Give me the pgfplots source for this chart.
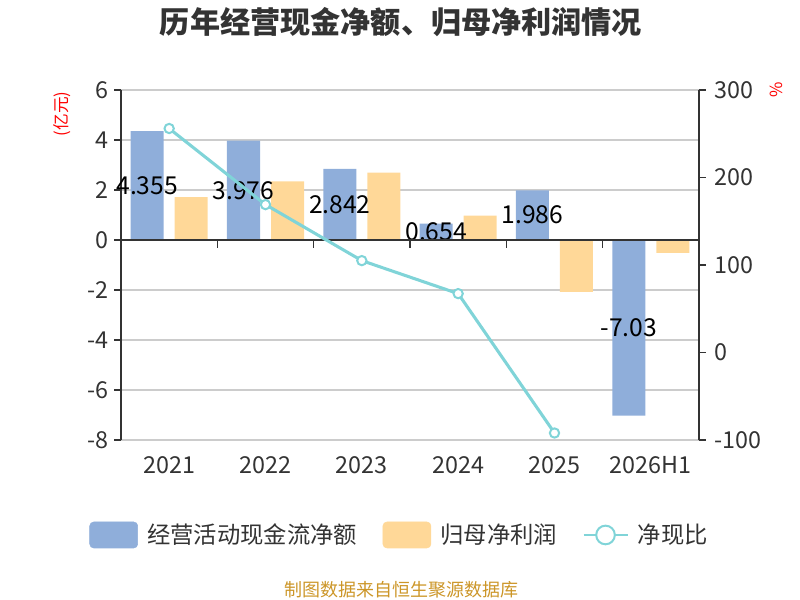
\documentclass[border=0pt]{standalone}
\usepackage{pgfplots}
\pgfplotsset{compat=1.18}
\usepackage{fontspec}
\setmainfont{Noto Sans CJK SC}
\definecolor{cblue}{RGB}{143,174,218}
\definecolor{corange}{RGB}{255,216,152}
\definecolor{cline}{RGB}{128,212,216}
\definecolor{ctext}{RGB}{51,51,51}
\definecolor{cgrid}{RGB}{204,204,204}
\definecolor{cfoot}{RGB}{204,150,40}
\begin{document}
\begin{tikzpicture}
\path[use as bounding box] (0pt,0pt) rectangle (600pt,450pt);
\pgfplotsset{
  base/.style={
    at={(90.75pt,120pt)}, anchor=south west,
    scale only axis, width=433.5pt, height=262.5pt,
    xmin=-0.5, xmax=5.5,
    /pgf/number format/assume math mode=true,
    tick label style={font=\fontsize{17.5}{19}\selectfont, text=ctext},
  }
}
% bars
\begin{axis}[base,
  ymin=-8, ymax=6, ytick={-8,-6,...,6},
  axis y line*=left, axis x line*=bottom,
  x axis line style={draw=none},
  y axis line style={ctext, line width=1.2pt},
  ytick style={draw=ctext, line width=1pt}, tick align=outside, major tick length=5pt,
  xtick={0,...,5}, xticklabels={2021,2022,2023,2024,2025,2026H1},
  xtick style={draw=none},
  xticklabel style={yshift=-4pt},
  yticklabel style={xshift=-1pt},
  ymajorgrids, grid style={cgrid, line width=1pt},
]
\addplot[ybar, bar width=24.75pt, bar shift=-16.5pt, fill=cblue, draw=none]
  coordinates {(0,4.355)(1,3.976)(2,2.842)(3,0.654)(4,1.986)(5,-7.03)};
\addplot[ybar, bar width=24.75pt, bar shift=16.5pt, fill=corange, draw=none]
  coordinates {(0,1.71)(1,2.34)(2,2.69)(3,0.97)(4,-2.08)(5,-0.52)};
\addplot[draw=none, mark=none, nodes near coords, point meta=explicit symbolic,
  every node near coord/.append style={anchor=center, font=\fontsize{18.5}{20}\selectfont, text=black}]
  coordinates {(-0.2284,2.1775)[4.355] (0.7716,1.988)[3.976] (1.7716,1.421)[2.842]
               (2.7716,0.327)[0.654] (3.7716,0.993)[1.986] (4.7716,-3.515)[-7.03]};
\end{axis}
% zero line with boundary ticks
\begin{axis}[base, ymin=-8, ymax=6,
  axis x line=middle, axis y line=none,
  x axis line style={ctext, line width=1.2pt, -},
  xtick={0.5,1.5,2.5,3.5,4.5}, xticklabels={},
  xtick style={draw=ctext, line width=1pt, yshift=-3pt}, major tick length=6pt,
]
\end{axis}
% ratio line
\begin{axis}[base, ymin=-100, ymax=300, ytick={-100,0,...,300},
  axis y line*=right, axis x line=none,
  y axis line style={ctext, line width=1.2pt},
  ytick style={draw=ctext, line width=1pt}, tick align=outside, major tick length=5pt,
  yticklabel style={xshift=3pt},
  legend style={at={(0.4827,-0.2714)}, anchor=center, draw=none, fill=none,
    legend columns=3, font=\fontsize{17.5}{20}\selectfont, text=ctext,
    /tikz/every odd column/.append style={column sep=5pt},
    /tikz/every even column/.append style={column sep=17pt}},
  legend cell align=left,
]
\addlegendimage{legend image code/.code={\fill[cblue, rounded corners=3pt] (0pt,-9.75pt) rectangle (36pt,9.75pt);}}
\addlegendimage{legend image code/.code={\fill[corange, rounded corners=3pt] (0pt,-9.75pt) rectangle (36pt,9.75pt);}}
\addplot[cline, line width=2.3pt, mark=*, mark size=3.5pt,
  mark options={fill=white, draw=cline, line width=1.5pt},
  legend image code/.code={\draw[cline,line width=1.5pt] (0pt,0pt) -- (33pt,0pt);
     \draw[cline, line width=1.5pt, fill=white] (16.5pt,0pt) circle (7pt);}]
  coordinates {(0,256)(1,169)(2,105)(3,67.3)(4,-92)};
\legend{经营活动现金流净额,归母净利润,净现比}
\end{axis}
\node[font=\fontsize{22.6}{26}\selectfont\bfseries, text=ctext] at (300.75pt,433.5pt) {历年经营现金净额、归母净利润情况};
\node[rotate=90, text=red, font=\fontsize{12.5}{14}\selectfont] at (46.5pt,364.5pt) {(亿元)};
\node[rotate=90, text=red, font=\fontsize{12.5}{14}\selectfont] at (582pt,382.5pt) {\%};
\node[text=cfoot, font=\fontsize{13.5}{16}\selectfont] at (301pt,7.5pt) {制图数据来自恒生聚源数据库};
\end{tikzpicture}
\end{document}
